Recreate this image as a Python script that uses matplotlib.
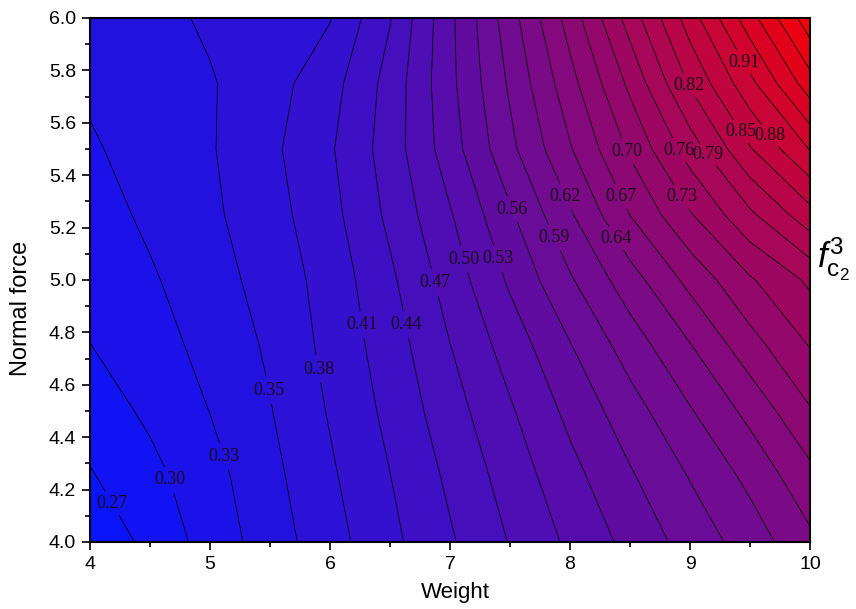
import numpy as np
import matplotlib
matplotlib.use("Agg")
import matplotlib.pyplot as plt
from matplotlib.colors import LinearSegmentedColormap, Normalize

# ---- data (grid of values) ----
weight = [4.0, 4.5, 5.0, 5.5, 6.0, 6.5, 7.0, 7.5, 8.0, 8.5, 9.0, 9.5, 10.0]
normal_force = [4.0, 4.25, 4.5, 4.75, 5.0, 5.25, 5.5, 5.75, 6.0]
z_f4_00 = [0.243, 0.276, 0.308, 0.340, 0.372, 0.405, 0.438, 0.472, 0.505, 0.537, 0.569, 0.600, 0.638]
z_f4_25 = [0.265, 0.288, 0.315, 0.346, 0.379, 0.412, 0.447, 0.483, 0.519, 0.554, 0.588, 0.623, 0.665]
z_f4_50 = [0.281, 0.302, 0.326, 0.353, 0.386, 0.420, 0.458, 0.496, 0.536, 0.574, 0.613, 0.653, 0.700]
z_f4_75 = [0.296, 0.314, 0.334, 0.359, 0.392, 0.427, 0.470, 0.512, 0.556, 0.600, 0.643, 0.691, 0.733]
z_f5_00 = [0.305, 0.322, 0.342, 0.366, 0.395, 0.436, 0.483, 0.533, 0.583, 0.632, 0.682, 0.728, 0.766]
z_f5_25 = [0.313, 0.331, 0.349, 0.372, 0.403, 0.448, 0.497, 0.553, 0.612, 0.674, 0.729, 0.784, 0.837]
z_f5_50 = [0.322, 0.337, 0.352, 0.377, 0.409, 0.455, 0.515, 0.579, 0.642, 0.707, 0.774, 0.845, 0.907]
z_f5_75 = [0.330, 0.338, 0.352, 0.372, 0.401, 0.452, 0.521, 0.591, 0.663, 0.738, 0.822, 0.897, 0.980]
z_f6_00 = [0.340, 0.345, 0.359, 0.371, 0.382, 0.440, 0.522, 0.603, 0.686, 0.773, 0.862, 0.952, 1.040]

level_start = 0.2385
level_step = 0.029
n_levels = 29

# contour label values and their approximate positions (weight, normal force)
label_values = [0.27, 0.30, 0.33, 0.35, 0.38, 0.41, 0.44, 0.47, 0.50, 0.53, 0.56, 0.59,
                0.62, 0.64, 0.67, 0.70, 0.73, 0.76, 0.79, 0.82, 0.85, 0.88, 0.91]
label_x = [4.23, 4.69, 5.14, 5.50, 5.90, 6.27, 6.63, 6.86, 7.13, 7.39, 7.52, 7.86,
           7.96, 8.39, 8.43, 8.47, 8.94, 8.89, 9.18, 8.98, 9.47, 9.75, 9.44]
label_y = [4.16, 4.24, 4.33, 4.58, 4.66, 4.83, 4.83, 4.99, 5.08, 5.08, 5.27, 5.16,
           5.32, 5.16, 5.32, 5.49, 5.32, 5.49, 5.49, 5.74, 5.58, 5.58, 5.83]

# ---- plotting ----
Z = np.array([z_f4_00, z_f4_25, z_f4_50, z_f4_75, z_f5_00, z_f5_25, z_f5_50, z_f5_75, z_f6_00])
X, Y = np.meshgrid(weight, normal_force)
levels = level_start + level_step * np.arange(n_levels)

cmap = LinearSegmentedColormap.from_list("bluered", ["#0514ff", "#f50008"])
norm = Normalize(vmin=levels[0], vmax=Z.max())

fig = plt.figure(figsize=(8.56, 6.09), dpi=100)
ax = fig.add_axes([90 / 856, 1 - 542 / 609, 720 / 856, 524 / 609])
ax.set_xlim(4, 10)
ax.set_ylim(4, 6)

ax.contourf(X, Y, Z, levels=levels, cmap=cmap, norm=norm, extend="both")
cs = ax.contour(X, Y, Z, levels=levels, colors="black", linewidths=0.55)


def nearest_on_level(k, px, py):
    """closest point (data coords) on contour level k to (px, py)."""
    path = cs.get_paths()[k]
    v = path.vertices
    if len(v) < 2:
        return px, py
    vs = ax.transData.transform(v)
    p = ax.transData.transform((px, py))
    codes = path.codes
    best, bestpt = np.inf, vs[0]
    for i in range(len(vs) - 1):
        if codes is not None and codes[i + 1] == 1:
            continue
        a, b = vs[i], vs[i + 1]
        d = b - a
        L = np.dot(d, d)
        t = 0.0 if L == 0 else np.clip(np.dot(p - a, d) / L, 0, 1)
        q = a + t * d
        dist = np.hypot(*(q - p))
        if dist < best:
            best, bestpt = dist, q
    return tuple(ax.transData.inverted().transform(bestpt))


for val, lx, ly in zip(label_values, label_x, label_y):
    k = int(np.argmin(np.abs(cs.levels - val)))
    mx, my = nearest_on_level(k, lx, ly)
    # small font for the gap size, the real size is set afterwards
    ax.clabel(cs, manual=[(mx, my)], inline=True, inline_spacing=1,
              fmt="%.2f", fontsize=8.5)

for t in cs.labelTexts:
    t.set_rotation(0)
    t.set_family("Liberation Serif")
    t.set_fontsize(13)
    t.set_color("#1a0a1a")

ax.set_xticks(np.arange(4, 10.01, 1))
ax.set_xticks(np.arange(4, 10.01, 0.5), minor=True)
ax.set_yticks(np.arange(4, 6.01, 0.2))
ax.set_yticks(np.arange(4, 6.01, 0.1), minor=True)
ax.set_yticklabels([f"{v:.1f}" for v in np.arange(4, 6.01, 0.2)])
ax.tick_params(which="major", direction="out", length=6, width=1.2, labelsize=14,
               top=False, right=False, pad=4)
ax.tick_params(which="minor", direction="out", length=3.5, width=1.2,
               top=False, right=False)
for lbl in ax.get_xticklabels() + ax.get_yticklabels():
    lbl.set_family("Liberation Sans")
for sp in ax.spines.values():
    sp.set_linewidth(1.5)

ax.set_xlabel("Weight", fontsize=16, family="Liberation Sans")
ax.xaxis.set_label_coords(0.507, -0.076)
ax.set_ylabel("Normal force", fontsize=17, family="Liberation Sans")
ax.yaxis.set_label_coords(-0.081, 0.445)

plt.rcParams["mathtext.fontset"] = "custom"
plt.rcParams["mathtext.it"] = "Liberation Sans:italic"
plt.rcParams["mathtext.rm"] = "Liberation Sans"
fig.text(0.955, 0.575, r"$\mathit{f}^{\mathrm{3}}_{\mathrm{c}_{\mathrm{2}}}$",
         fontsize=25, ha="left", va="center")

fig.savefig("out.png", dpi=100)
